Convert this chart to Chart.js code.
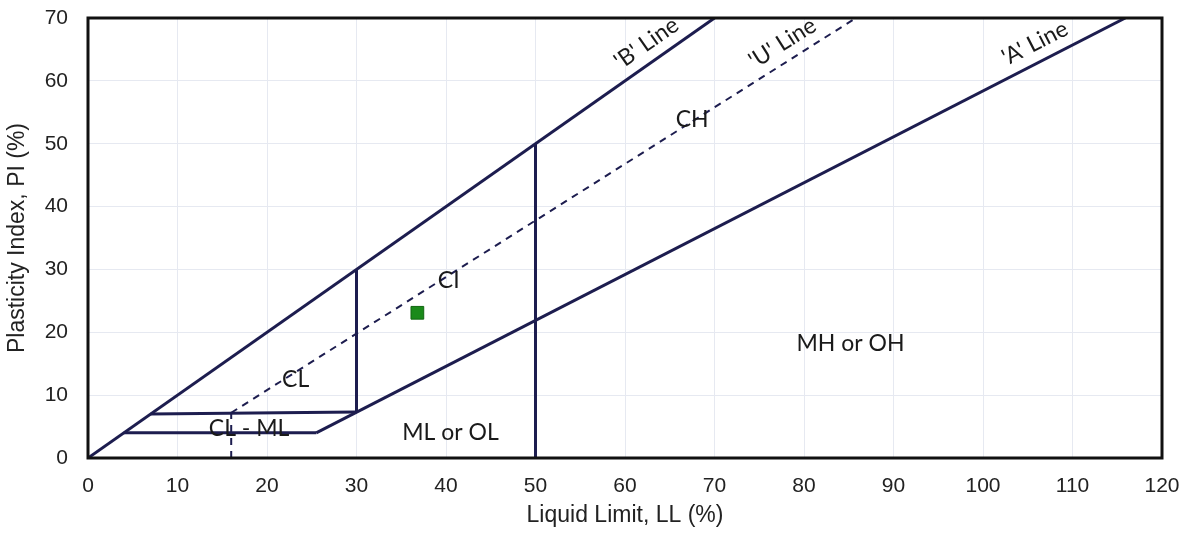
<!DOCTYPE html>
<html>
<head>
<meta charset="utf-8">
<script src="https://cdn.jsdelivr.net/npm/chart.js@4"></script>
<style>
  html, body { margin: 0; padding: 0; background: #fff; }
  #wrap { width: 1184px; height: 533px; }
</style>
</head>
<body>
<div id="wrap"><canvas id="plasticity"></canvas></div>
<script>
// boundary lines of the plasticity chart, as [LL, PI] pairs
const bLine = [[0, 0], [70, 70]];
const aLine = [[25.5, 4], [115.9, 70]];
const uLine = [[16, 7.2], [85.8, 70]];
const uDrop = [[16, 0], [16, 7.2]];
const pi4Line = [[4, 4], [25.5, 4]];
const pi7Line = [[7, 7], [30, 7.3]];
const ll30Line = [[30, 7.3], [30, 30]];
const ll50Line = [[50, 0], [50, 50]];
const sample = [[36.8, 23.1]];

const xTicks = [0, 10, 20, 30, 40, 50, 60, 70, 80, 90, 100, 110, 120];
const yTicks = [0, 10, 20, 30, 40, 50, 60, 70];

// zone labels: text, LL, PI, slope of line it follows (PI per LL)
const zoneLabels = [
  ["'B' Line", 62.4, 66.0, 1],
  ["'U' Line", 77.6, 66.0, 0.9],
  ["'A' Line", 105.8, 66.0, 0.73],
  ["CH", 67.5, 53.8, 0],
  ["CI", 40.3, 28.2, 0],
  ["CL", 23.2, 12.4, 0],
  ["CL - ML", 18.0, 4.7, 0],
  ["ML or OL", 40.5, 4.1, 0],
  ["MH or OH", 85.2, 18.2, 0],
];

const toPts = (arr) => arr.map(([x, y]) => ({ x, y }));
const navy = "#1d1d4f";

function seg(pts, dashed) {
  return {
    data: toPts(pts),
    showLine: true,
    borderColor: navy,
    borderWidth: dashed ? 2 : 3,
    borderDash: dashed ? [7, 6] : [],
    pointRadius: 0,
    fill: false,
  };
}

const labelPlugin = {
  id: "zoneLabels",
  afterDatasetsDraw(chart) {
    const { ctx, chartArea, scales } = chart;
    const xs = scales.x, ys = scales.y;
    // frame
    ctx.save();
    ctx.strokeStyle = "#111";
    ctx.lineWidth = 3;
    ctx.strokeRect(chartArea.left, chartArea.top, chartArea.right - chartArea.left, chartArea.bottom - chartArea.top);
    ctx.restore();

    const pxPerX = Math.abs(xs.getPixelForValue(10) - xs.getPixelForValue(0)) / 10;
    const pxPerY = Math.abs(ys.getPixelForValue(10) - ys.getPixelForValue(0)) / 10;
    ctx.save();
    ctx.fillStyle = "#1a1a1a";
    ctx.font = "23px Lato";
    ctx.textAlign = "center";
    ctx.textBaseline = "middle";
    zoneLabels.forEach(([txt, lx, ly, slope]) => {
      const px = xs.getPixelForValue(lx);
      const py = ys.getPixelForValue(ly);
      const ang = -Math.atan((slope * pxPerY) / pxPerX);
      ctx.save();
      ctx.translate(px, py);
      ctx.rotate(ang);
      ctx.fillText(txt, 0, 0);
      ctx.restore();
    });
    ctx.restore();
  },
};

const tickFont = { family: "'Liberation Sans', Arial", size: 21 };
const titleFont = { family: "'Liberation Sans', Arial", size: 23 };

new Chart(document.getElementById("plasticity").getContext("2d"), {
  type: "scatter",
  data: {
    datasets: [
      seg(bLine, false),
      seg(aLine, false),
      seg(uLine, true),
      seg(uDrop, true),
      seg(pi4Line, false),
      seg(pi7Line, false),
      seg(ll30Line, false),
      seg(ll50Line, false),
      {
        data: toPts(sample),
        pointStyle: "rect",
        pointRadius: 9,
        backgroundColor: "#1a8a1a",
        borderColor: "#116611",
        borderWidth: 1,
        showLine: false,
      },
    ],
  },
  options: {
    responsive: true,
    maintainAspectRatio: false,
    animation: false,
    layout: { padding: { top: 18, right: 22, left: 0, bottom: 0 } },
    plugins: {
      legend: { display: false },
      tooltip: { enabled: false },
    },
    scales: {
      x: {
        type: "linear",
        min: 0,
        max: 120,
        afterBuildTicks: (s) => { s.ticks = xTicks.map((v) => ({ value: v })); },
        afterFit: (s) => {
          s.height = 75;
          s.paddingLeft = 0; s.paddingRight = 0; s.paddingTop = 0; s.paddingBottom = 0;
        },
        grid: { color: "#e6e9f1", drawTicks: false },
        border: { display: false },
        ticks: { font: tickFont, color: "#222", padding: 16 },
        title: {
          display: true,
          text: "Liquid Limit, LL (%)",
          font: titleFont,
          color: "#222",
          padding: { top: 0, bottom: 4 },
        },
      },
      y: {
        type: "linear",
        min: 0,
        max: 70,
        afterBuildTicks: (s) => { s.ticks = yTicks.map((v) => ({ value: v })); },
        afterFit: (s) => {
          s.width = 88;
          s.paddingLeft = 0; s.paddingRight = 0; s.paddingTop = 0; s.paddingBottom = 0;
        },
        grid: { color: "#e6e9f1", drawTicks: false },
        border: { display: false },
        ticks: { font: tickFont, color: "#222", padding: 20 },
        title: {
          display: true,
          text: "Plasticity Index, PI (%)",
          font: titleFont,
          color: "#222",
          padding: { bottom: 0, top: 4 },
        },
      },
    },
  },
  plugins: [labelPlugin],
});
</script>
</body>
</html>
